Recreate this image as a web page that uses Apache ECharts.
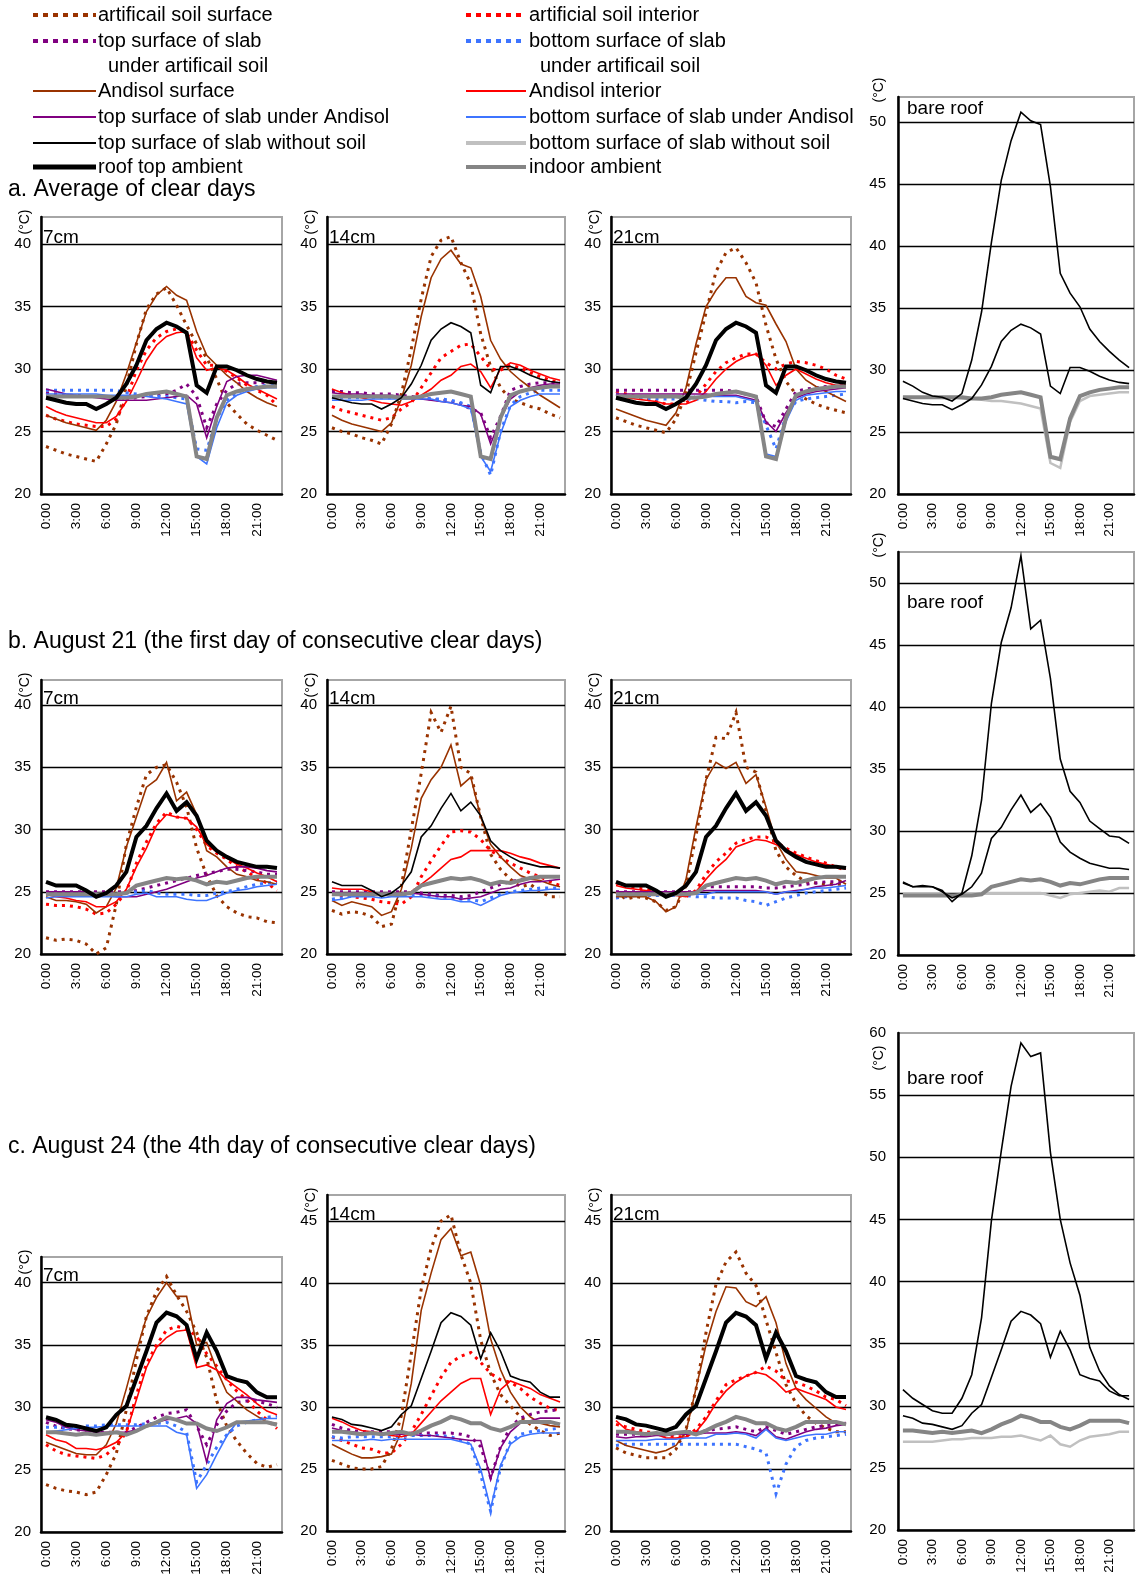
<!DOCTYPE html>
<html><head><meta charset="utf-8">
<script src="https://cdn.jsdelivr.net/npm/echarts@6/dist/echarts.min.js"></script>
<style>html,body{margin:0;padding:0;background:#fff}#c{width:1137px;height:1581px}</style>
</head><body><div id="c"></div>
<script>
const hours = ['0:00','1:00','2:00','3:00','4:00','5:00','6:00','7:00','8:00','9:00','10:00','11:00','12:00','13:00','14:00','15:00','16:00','17:00','18:00','19:00','20:00','21:00','22:00','23:00'];

// ---------- a. Average of clear days ----------
const roofA    = [27.7,27.5,27.3,27.2,27.2,26.8,27.2,27.7,28.8,30.3,32.3,33.2,33.7,33.4,32.9,28.7,28.1,30.2,30.2,29.9,29.5,29.2,29.0,28.9];
const indoorA  = [27.8,27.8,27.8,27.8,27.8,27.8,27.8,27.7,27.7,27.8,28.0,28.1,28.2,28.0,27.8,23.0,22.8,26.1,27.9,28.2,28.4,28.5,28.6,28.6];
const bareTopA = [29.1,28.7,28.2,27.9,27.8,27.5,28.1,30.8,34.7,40.3,45.3,48.5,50.8,50.1,49.8,44.8,37.8,36.2,35.1,33.3,32.3,31.5,30.8,30.2];
const bareBotA = [27.8,27.8,27.8,27.8,27.8,27.8,27.7,27.7,27.6,27.5,27.5,27.4,27.3,27.1,26.9,22.5,22.1,25.8,27.5,27.9,28.0,28.1,28.2,28.2];

const a7_artSurf = [23.8,23.5,23.2,23.0,22.8,22.6,24.0,25.6,28.6,32.0,34.8,36.0,36.5,35.1,33.5,32.0,30.9,29.2,27.3,26.4,25.6,25.1,24.7,24.3];
const a7_artInt  = [26.3,26.0,25.8,25.6,25.5,25.4,25.4,26.0,27.6,29.9,31.5,32.5,33.0,33.2,32.9,31.5,30.3,30.3,29.8,29.3,28.7,28.3,27.9,27.1];
const a7_artTop  = [28.1,28.0,27.9,27.9,27.8,27.8,27.7,27.6,27.6,27.7,27.8,27.9,28.0,28.3,28.8,27.8,25.3,27.2,28.3,28.8,28.9,28.9,28.9,28.9];
const a7_artBot  = [28.3,28.3,28.3,28.3,28.3,28.3,28.3,28.3,28.1,28.0,27.9,27.8,27.8,27.7,27.6,23.6,23.5,26.0,27.5,28.1,28.4,28.6,28.7,28.7];
const a7_andSurf = [26.3,26.0,25.7,25.5,25.3,25.1,25.9,27.4,29.6,32.1,34.6,35.9,36.6,35.9,35.5,33.0,31.1,30.3,29.5,28.9,28.2,27.7,27.3,27.0];
const a7_andInt  = [27.0,26.6,26.3,26.1,25.9,25.7,25.7,26.2,27.4,29.0,30.7,31.9,32.6,32.9,33.0,30.9,29.9,30.1,29.9,29.4,28.8,28.4,28.0,27.6];
const a7_andTop  = [28.4,28.2,28.0,27.9,27.8,27.7,27.6,27.5,27.5,27.5,27.5,27.6,27.7,27.8,27.9,27.2,24.5,27.0,29.0,29.4,29.5,29.5,29.3,29.1];
const a7_andBot  = [28.0,28.0,28.0,28.0,28.0,28.0,27.9,27.9,27.9,27.9,27.8,27.7,27.6,27.4,27.2,23.0,22.4,25.3,27.3,27.9,28.2,28.4,28.5,28.5];

const a14_artSurf = [25.3,25.0,24.8,24.5,24.3,24.0,25.6,28.0,31.6,35.6,39.0,40.3,40.6,38.5,36.8,32.8,30.2,28.5,27.6,27.3,27.0,26.8,26.4,26.1];
const a14_artInt  = [27.0,26.7,26.5,26.3,26.1,25.9,26.1,26.8,27.3,28.5,29.7,30.9,31.4,31.9,32.0,31.0,30.0,29.9,30.3,30.1,29.7,29.4,29.1,28.9];
const a14_artTop  = [28.2,28.2,28.1,28.1,28.0,28.0,28.0,27.9,27.8,27.7,27.6,27.5,27.4,27.2,26.8,26.5,24.5,26.2,28.3,28.6,28.8,28.9,28.9,28.9];
const a14_artBot  = [27.7,27.7,27.7,27.7,27.7,27.7,27.7,27.7,27.7,27.7,27.6,27.6,27.5,27.3,27.0,23.3,21.5,25.0,27.1,27.8,28.1,28.3,28.3,28.3];
const a14_andSurf = [26.3,25.9,25.6,25.4,25.2,25.0,25.7,27.6,30.3,34.2,37.3,38.8,39.5,38.4,38.1,35.8,32.3,30.8,29.8,29.1,28.5,27.9,27.4,26.9];
const a14_andInt  = [28.4,28.1,27.9,27.7,27.5,27.3,27.2,27.1,27.4,27.9,28.4,29.1,29.5,30.2,30.4,29.8,28.5,30.0,30.5,30.3,29.9,29.6,29.3,29.1];
const a14_andTop  = [28.1,28.0,28.0,28.0,27.9,27.9,27.9,27.8,27.7,27.6,27.5,27.4,27.3,27.1,27.0,26.4,24.0,26.0,27.6,28.2,28.5,28.7,28.8,28.8];
const a14_andBot  = [27.5,27.5,27.5,27.5,27.6,27.6,27.6,27.6,27.6,27.6,27.6,27.4,27.3,27.1,26.8,23.0,21.8,24.8,27.0,27.5,27.8,28.0,28.0,28.0];

const a21_artSurf = [26.1,25.8,25.5,25.3,25.1,24.9,26.0,28.0,31.3,34.5,37.8,39.3,39.7,38.5,36.9,33.5,30.8,29.0,28.0,27.6,27.2,26.9,26.7,26.5];
const a21_artInt  = [28.2,28.0,27.8,27.6,27.4,27.2,27.2,27.3,27.8,28.8,29.8,30.5,30.9,31.2,31.2,30.5,30.0,30.4,30.6,30.5,30.3,30.0,29.5,29.2];
const a21_artTop  = [28.3,28.3,28.3,28.3,28.3,28.3,28.3,28.3,28.3,28.3,28.3,28.3,28.2,28.0,27.8,25.7,25.4,26.8,28.2,28.4,28.5,28.6,28.7,28.7];
const a21_artBot  = [28.0,27.8,27.7,27.6,27.6,27.6,27.6,27.6,27.6,27.5,27.4,27.4,27.3,27.4,27.3,25.5,23.6,26.3,27.4,27.6,27.7,27.8,27.9,28.0];
const a21_andSurf = [26.8,26.5,26.2,25.9,25.7,25.5,26.5,28.5,32.0,35.0,36.3,37.3,37.3,35.8,35.3,35.1,33.6,32.2,30.0,29.1,28.6,28.2,27.8,27.4];
const a21_andInt  = [27.9,27.7,27.6,27.5,27.4,27.2,27.2,27.2,27.5,28.2,29.2,30.0,30.6,31.0,31.2,30.3,28.7,29.5,30.0,29.6,29.2,28.9,28.7,28.7];
const a21_andTop  = [28.0,28.0,28.0,28.0,28.0,28.0,28.0,28.0,28.0,28.0,27.9,27.9,27.9,27.7,27.5,25.8,25.0,26.5,27.7,28.0,28.2,28.3,28.4,28.5];
const a21_andBot  = [27.8,27.8,27.8,27.8,27.8,27.8,27.8,27.8,27.8,27.8,27.8,27.8,27.8,27.6,27.4,23.2,23.0,25.8,27.5,27.9,28.0,28.1,28.2,28.2];

// ---------- b. August 21 ----------
const roofB    = [25.8,25.5,25.5,25.5,25.1,24.6,24.9,25.5,26.6,29.4,30.3,31.7,32.9,31.5,32.2,31.1,29.1,28.3,27.8,27.4,27.2,27.0,27.0,26.9];
const indoorB  = [24.8,24.8,24.8,24.8,24.8,24.8,24.8,24.8,24.9,25.5,25.7,25.9,26.1,26.0,26.1,25.9,25.6,25.8,25.7,25.9,26.1,26.2,26.2,26.2];
const bareTopB = [25.9,25.5,25.6,25.5,25.2,24.3,25.0,28.0,32.5,40.3,45.2,48.0,52.2,46.3,47.0,42.3,35.8,33.2,32.3,30.8,30.2,29.6,29.5,29.0];
const bareBotB = [24.9,24.9,24.9,24.9,24.9,24.8,24.9,24.9,25.0,25.0,25.0,25.0,25.0,25.0,25.0,24.8,24.6,24.9,25.0,25.1,25.2,25.1,25.4,25.4];

const b7_artSurf = [21.3,21.1,21.2,21.1,20.8,20.0,20.5,24.0,28.8,31.8,34.4,35.0,35.2,33.8,31.8,28.5,26.3,24.7,23.8,23.3,23.0,22.9,22.6,22.5];
const b7_artInt  = [24.0,23.9,23.9,23.8,23.6,23.2,23.3,24.0,25.0,27.3,29.0,30.5,31.4,31.0,30.9,30.0,28.7,28.1,27.6,27.0,26.6,26.1,25.7,25.1];
const b7_artTop  = [25.0,25.0,25.0,25.0,25.0,25.0,25.0,25.0,25.0,25.1,25.3,25.5,25.7,25.9,26.1,26.3,26.5,26.6,26.8,26.8,26.7,26.6,26.4,26.4];
const b7_artBot  = [24.8,24.8,24.8,24.8,24.8,24.8,24.8,24.8,24.9,25.0,25.1,24.9,24.8,24.8,24.8,24.7,24.7,24.9,25.0,25.2,25.4,25.6,25.7,25.8];
const b7_andSurf = [24.6,24.3,24.3,24.2,24.0,23.3,23.8,25.3,28.6,31.0,33.4,34.0,35.4,32.3,33.0,31.2,28.3,27.8,27.0,26.4,26.2,25.9,25.8,25.6];
const b7_andInt  = [24.8,24.6,24.5,24.3,24.2,23.8,23.8,24.2,25.2,27.0,28.5,30.3,31.2,31.0,30.9,30.2,28.8,28.2,27.7,27.2,26.9,26.5,26.2,25.8];
const b7_andTop  = [25.0,25.0,25.0,25.0,25.0,24.8,24.7,24.6,24.6,24.6,24.8,25.0,25.2,25.5,25.8,26.1,26.3,26.6,26.9,27.0,27.0,26.9,26.7,26.6];
const b7_andBot  = [24.5,24.6,24.6,24.6,24.6,24.6,24.6,24.6,24.6,24.8,24.9,24.6,24.6,24.6,24.4,24.3,24.3,24.6,24.9,25.1,25.2,25.4,25.5,25.6];

const b14_artSurf = [23.5,23.2,23.4,23.3,23.0,22.2,22.4,25.5,30.0,34.5,39.4,37.8,39.9,35.0,34.5,31.0,28.0,26.8,26.0,25.4,25.6,25.0,24.6,24.6];
const b14_artInt  = [24.8,24.7,24.6,24.5,24.4,24.2,24.1,24.0,24.6,26.2,27.5,28.7,29.8,29.9,29.8,29.2,28.3,27.8,27.3,26.9,26.5,26.2,25.8,25.5];
const b14_artTop  = [25.0,25.0,25.0,25.0,25.0,25.0,25.0,25.0,25.0,24.9,24.8,24.7,24.7,24.6,24.7,25.0,25.3,25.6,25.8,26.0,26.1,26.2,26.2,26.2];
const b14_artBot  = [24.4,24.5,24.7,24.7,24.7,24.7,24.7,24.7,24.7,24.7,24.7,24.6,24.5,24.4,24.4,24.2,24.5,24.8,25.0,25.1,25.2,25.3,25.3,25.3];
const b14_andSurf = [24.3,23.9,24.2,24.0,23.8,23.1,23.4,25.2,28.5,32.5,34.0,35.0,36.8,33.5,34.2,31.0,28.8,27.8,27.0,26.3,26.0,25.9,25.6,25.4];
const b14_andInt  = [25.3,25.2,25.2,25.2,25.0,24.8,24.8,24.8,25.0,25.6,26.2,26.9,27.6,27.8,28.3,28.3,28.3,28.3,28.1,27.8,27.6,27.3,27.1,26.9];
const b14_andTop  = [24.9,24.9,24.9,24.9,24.9,24.9,24.9,24.9,24.9,24.8,24.7,24.6,24.6,24.4,24.5,24.6,24.9,25.2,25.3,25.6,25.8,25.8,25.9,26.0];
const b14_andBot  = [24.3,24.4,24.6,24.6,24.6,24.5,24.6,24.6,24.6,24.6,24.5,24.4,24.4,24.2,24.2,23.9,24.3,24.7,24.9,25.0,25.1,25.1,25.2,25.2];

const b21_artSurf = [25.0,24.4,24.6,24.5,24.2,23.5,23.8,25.5,29.5,34.0,37.4,37.3,39.4,35.0,34.6,31.5,28.3,27.0,26.3,25.8,25.7,25.6,25.6,25.6];
const b21_artInt  = [25.7,25.5,25.3,25.2,25.0,24.8,24.7,24.6,25.1,26.4,27.4,28.1,28.9,29.2,29.4,29.4,29.0,28.5,28.1,27.8,27.5,27.3,27.0,26.7];
const b21_artTop  = [25.0,25.0,25.0,25.0,25.0,25.0,25.0,25.0,25.0,25.4,25.4,25.4,25.4,25.4,25.4,25.3,25.3,25.4,25.5,25.6,25.7,25.8,25.8,25.9];
const b21_artBot  = [24.5,24.6,24.7,24.7,24.7,24.7,24.7,24.7,24.6,24.6,24.5,24.5,24.5,24.3,24.2,23.9,24.2,24.5,24.7,24.9,25.0,25.1,25.2,25.3];
const b21_andSurf = [24.6,24.6,24.6,24.6,24.2,23.4,23.8,26.0,30.2,34.0,35.4,34.9,35.4,33.7,34.4,31.8,29.0,27.6,26.6,26.5,26.3,26.1,26.1,25.6];
const b21_andInt  = [25.5,25.3,25.2,25.1,25.0,24.8,24.7,24.6,25.0,26.0,26.9,27.6,28.6,28.9,29.2,29.1,28.8,28.4,28.0,27.7,27.4,27.2,27.0,26.8];
const b21_andTop  = [25.0,25.0,25.0,25.0,25.0,25.0,25.0,25.0,25.0,25.1,25.1,25.1,25.1,25.1,25.1,25.0,24.8,25.0,25.1,25.2,25.4,25.5,25.6,25.9];
const b21_andBot  = [24.8,24.8,24.8,24.8,24.8,24.8,24.8,24.8,24.8,24.8,25.0,25.0,25.0,25.0,25.0,25.0,24.8,25.0,25.0,25.2,25.3,25.3,25.4,25.5];

// ---------- c. August 24 ----------
const roofC    = [29.2,29.0,28.6,28.5,28.3,28.1,28.4,29.4,30.1,32.3,34.5,36.8,37.6,37.3,36.6,33.9,36.0,34.5,32.5,32.2,32.0,31.2,30.8,30.8];
const indoorC  = [28.0,28.0,27.9,27.8,27.9,27.8,27.9,28.0,27.8,28.1,28.5,28.8,29.2,29.0,28.7,28.7,28.3,28.1,28.4,28.8,28.8,28.8,28.8,28.6];
const bareTopC = [31.3,30.6,30.1,29.6,29.4,29.4,30.6,32.5,37.1,44.9,50.5,55.7,59.2,58.1,58.4,50.4,45.0,41.5,38.9,34.7,32.8,31.6,30.9,30.5];
const bareBotC = [27.1,27.1,27.1,27.1,27.2,27.3,27.3,27.4,27.4,27.4,27.5,27.5,27.6,27.4,27.2,27.6,26.9,26.7,27.2,27.5,27.6,27.7,27.9,27.9];

const c7_artSurf = [23.8,23.5,23.3,23.2,23.0,23.2,24.6,26.3,29.8,33.8,37.3,39.3,40.5,39.0,37.7,36.0,34.0,30.5,28.5,27.3,26.3,25.5,25.2,25.4];
const c7_artInt  = [27.0,26.5,26.2,26.1,26.0,25.9,26.2,26.9,28.0,31.0,33.5,35.0,36.2,36.5,36.3,35.7,34.3,33.3,32.2,31.3,30.6,29.7,29.0,28.3];
const c7_artTop  = [28.8,28.5,28.3,28.2,28.1,28.0,28.0,28.0,28.0,28.4,28.8,29.2,29.5,29.6,29.8,28.5,27.0,28.6,29.7,30.4,30.5,30.5,30.3,30.0];
const c7_artBot  = [28.4,28.4,28.4,28.4,28.5,28.5,28.6,28.6,28.6,28.6,28.7,28.7,28.8,28.5,28.0,24.0,25.4,26.8,27.8,28.5,28.8,29.0,29.2,29.3];
const c7_andSurf = [27.2,26.9,26.6,26.3,26.2,26.2,27.0,28.7,31.5,34.5,37.2,38.8,40.0,38.9,38.9,35.0,35.2,33.0,31.2,30.5,29.8,29.3,28.8,28.7];
const c7_andInt  = [27.8,27.4,27.2,26.7,26.7,26.6,26.8,27.2,28.0,30.6,33.2,34.8,35.6,36.1,36.2,33.2,33.4,33.0,32.2,31.6,31.0,30.3,29.7,29.4];
const c7_andTop  = [29.0,28.8,28.4,28.2,28.1,28.0,28.0,28.0,28.0,28.2,28.5,28.8,29.0,29.1,29.3,28.7,25.6,29.0,30.3,30.8,30.8,30.6,30.5,30.4];
const c7_andBot  = [28.0,28.1,28.2,28.3,28.4,28.4,28.5,28.5,28.5,28.5,28.5,28.5,28.5,28.0,27.8,23.5,24.6,26.2,27.7,28.8,28.9,29.0,29.1,29.1];

const c14_artSurf = [25.7,25.4,25.1,25.0,25.0,25.2,26.6,29.3,34.3,39.5,42.8,45.0,45.5,42.3,40.0,35.4,32.7,31.0,30.1,29.2,28.6,28.1,27.7,27.9];
const c14_artInt  = [27.6,27.3,27.0,26.7,26.6,26.3,26.3,27.0,28.0,29.4,30.9,32.4,33.6,34.1,34.4,33.6,32.7,32.2,32.0,31.5,30.8,30.3,29.9,29.7];
const c14_artTop  = [28.6,28.3,28.1,28.0,28.0,28.0,28.0,27.9,27.9,27.9,27.9,27.9,27.9,27.8,27.6,26.8,24.3,26.8,28.4,29.1,29.4,29.6,29.7,29.8];
const c14_artBot  = [27.6,27.5,27.6,27.6,27.6,27.6,27.6,27.6,27.7,27.7,27.7,27.7,27.6,27.3,27.0,24.5,21.6,25.1,27.2,27.8,28.0,28.1,28.2,28.3];
const c14_andSurf = [27.0,26.6,26.2,25.9,25.9,26.0,26.2,28.0,31.9,37.8,40.8,43.5,44.4,42.2,42.5,39.8,35.5,33.0,31.2,30.0,29.2,28.7,28.5,28.4];
const c14_andInt  = [29.1,28.8,28.4,28.1,28.0,27.9,27.7,27.6,27.8,28.7,29.6,30.5,31.2,31.9,32.3,32.3,29.4,31.4,32.1,31.8,31.5,31.0,30.7,30.4];
const c14_andTop  = [28.3,28.1,28.0,27.9,27.9,27.9,27.8,27.8,27.8,27.7,27.7,27.6,27.5,27.4,27.3,27.3,24.2,26.7,28.0,28.7,28.9,29.1,29.1,29.1];
const c14_andBot  = [27.3,27.3,27.3,27.3,27.4,27.3,27.4,27.4,27.4,27.4,27.4,27.4,27.4,27.2,27.0,25.0,21.8,25.3,27.0,27.6,27.8,27.9,27.9,27.9];

const c21_artSurf = [26.7,26.3,26.1,25.9,25.9,25.9,26.6,28.2,31.4,36.0,39.9,41.7,42.5,40.8,39.8,37.0,34.4,31.8,30.3,29.3,28.7,28.3,28.0,28.0];
const c21_artInt  = [28.6,28.4,28.2,28.0,27.9,27.7,27.6,27.6,28.2,29.2,30.5,31.8,32.2,32.5,32.8,33.3,32.9,32.1,32.0,31.7,31.3,30.8,30.6,30.1];
const c21_artTop  = [27.8,27.8,27.8,27.8,27.8,27.8,27.9,28.0,28.0,28.1,28.2,28.3,28.4,28.2,28.0,28.4,28.1,27.8,28.0,28.2,28.4,28.5,28.6,28.7];
const c21_artBot  = [26.9,27.0,27.0,27.0,27.0,27.0,27.0,27.0,27.0,27.0,27.0,27.0,27.0,26.8,26.6,26.3,23.0,25.4,26.8,27.3,27.5,27.6,27.7,27.8];
const c21_andSurf = [27.3,26.9,26.7,26.5,26.3,26.5,26.9,28.0,31.5,35.0,37.7,39.7,39.6,38.5,38.1,38.9,36.8,33.5,31.5,30.6,29.9,29.2,28.7,28.6];
const c21_andInt  = [28.9,28.2,28.0,27.9,27.8,27.5,27.5,27.6,28.0,29.0,30.3,31.3,32.0,32.5,32.8,32.6,32.0,31.2,31.5,31.2,30.9,30.6,30.0,29.8];
const c21_andTop  = [27.6,27.5,27.6,27.6,27.7,27.7,27.8,27.8,27.8,27.9,27.9,27.9,28.0,27.9,27.7,28.3,27.6,27.4,27.7,28.0,28.2,28.3,28.5,28.6];
const c21_andBot  = [27.3,27.3,27.3,27.3,27.4,27.4,27.4,27.5,27.5,27.5,27.8,27.8,27.9,27.8,27.5,28.2,27.5,27.3,27.5,27.7,27.8,27.8,28.0,28.0];

// ---------- assemble per-panel soil series ----------
const SOIL = {
  a7:{artSurf:a7_artSurf,artInt:a7_artInt,artTop:a7_artTop,artBot:a7_artBot,andSurf:a7_andSurf,andInt:a7_andInt,andTop:a7_andTop,andBot:a7_andBot},
  a14:{artSurf:a14_artSurf,artInt:a14_artInt,artTop:a14_artTop,artBot:a14_artBot,andSurf:a14_andSurf,andInt:a14_andInt,andTop:a14_andTop,andBot:a14_andBot},
  a21:{artSurf:a21_artSurf,artInt:a21_artInt,artTop:a21_artTop,artBot:a21_artBot,andSurf:a21_andSurf,andInt:a21_andInt,andTop:a21_andTop,andBot:a21_andBot},
  b7:{artSurf:b7_artSurf,artInt:b7_artInt,artTop:b7_artTop,artBot:b7_artBot,andSurf:b7_andSurf,andInt:b7_andInt,andTop:b7_andTop,andBot:b7_andBot},
  b14:{artSurf:b14_artSurf,artInt:b14_artInt,artTop:b14_artTop,artBot:b14_artBot,andSurf:b14_andSurf,andInt:b14_andInt,andTop:b14_andTop,andBot:b14_andBot},
  b21:{artSurf:b21_artSurf,artInt:b21_artInt,artTop:b21_artTop,artBot:b21_artBot,andSurf:b21_andSurf,andInt:b21_andInt,andTop:b21_andTop,andBot:b21_andBot},
  c7:{artSurf:c7_artSurf,artInt:c7_artInt,artTop:c7_artTop,artBot:c7_artBot,andSurf:c7_andSurf,andInt:c7_andInt,andTop:c7_andTop,andBot:c7_andBot},
  c14:{artSurf:c14_artSurf,artInt:c14_artInt,artTop:c14_artTop,artBot:c14_artBot,andSurf:c14_andSurf,andInt:c14_andInt,andTop:c14_andTop,andBot:c14_andBot},
  c21:{artSurf:c21_artSurf,artInt:c21_artInt,artTop:c21_artTop,artBot:c21_artBot,andSurf:c21_andSurf,andInt:c21_andInt,andTop:c21_andTop,andBot:c21_andBot}
};

// ---------- styling / layout ----------
const FONT = "'Liberation Sans', Arial, sans-serif";
const COL = {brown:'#993300', red:'#ff0000', purple:'#800080', blue:'#3d74ff', black:'#000000', lgrey:'#c0c0c0', grey:'#858585'};
const DOT = [3,5];

const panels = [
  {kind:'soil', s:'a7',  x0:41,  x1:282,  top:217, y20:494, refY:244, refV:40, label:'7cm',  roof:roofA, indoor:indoorA, thick:true},
  {kind:'soil', s:'a14', x0:327, x1:565,  top:217, y20:494, refY:244, refV:40, label:'14cm', roof:roofA, indoor:indoorA, thick:false},
  {kind:'soil', s:'a21', x0:611, x1:851,  top:217, y20:494, refY:244, refV:40, label:'21cm', roof:roofA, indoor:indoorA, thick:true},
  {kind:'bare', x0:898, x1:1134, top:97,  y20:494, refY:122, refV:50, roof:roofA, indoor:indoorA, bt:bareTopA, bb:bareBotA, labelY:109},
  {kind:'soil', s:'b7',  x0:41,  x1:282,  top:680, y20:954, refY:705, refV:40, label:'7cm',  roof:roofB, indoor:indoorB, thick:true},
  {kind:'soil', s:'b14', x0:327, x1:565,  top:680, y20:954, refY:705, refV:40, label:'14cm', roof:roofB, indoor:indoorB, thick:false},
  {kind:'soil', s:'b21', x0:611, x1:851,  top:680, y20:954, refY:705, refV:40, label:'21cm', roof:roofB, indoor:indoorB, thick:true},
  {kind:'bare', x0:898, x1:1134, top:552, y20:955, refY:583, refV:50, roof:roofB, indoor:indoorB, bt:bareTopB, bb:bareBotB, labelY:603},
  {kind:'soil', s:'c7',  x0:41,  x1:282,  top:1257, y20:1532, refY:1282.7, refV:40, label:'7cm',  roof:roofC, indoor:indoorC, thick:true},
  {kind:'soil', s:'c14', x0:327, x1:565,  top:1195, y20:1531, refY:1221, refV:45, label:'14cm', roof:roofC, indoor:indoorC, thick:false},
  {kind:'soil', s:'c21', x0:611, x1:851,  top:1195, y20:1531, refY:1221, refV:45, label:'21cm', roof:roofC, indoor:indoorC, thick:true},
  {kind:'bare', x0:898, x1:1134, top:1033, y20:1530, refY:1033, refV:60, roof:roofC, indoor:indoorC, bt:bareTopC, bb:bareBotC, labelY:1079}
];

const grids=[], xAxes=[], yAxes=[], series=[], graphics=[];

function line(i, data, color, width, dash, z){
  series.push({type:'line', xAxisIndex:i, yAxisIndex:i, data:data, symbol:'none', showSymbol:false, silent:true,
    animation:false, z:z||2, lineStyle:{color:color, width:width, type:dash||'solid', cap:'butt', join:'miter'}, itemStyle:{color:color},
    emphasis:{disabled:true}});
}
function txt(x,y,text,size,opts){
  opts = opts || {};
  const st = Object.assign({text:text, font:size+'px '+FONT, fill:'#000', textAlign:'left', textVerticalAlign:'middle'}, opts.style||{});
  const o = {type:'text', x:x, y:y, silent:true, z:50, style:st};
  if (opts.rotation) o.rotation = opts.rotation;
  graphics.push(o);
}

panels.forEach((p,i)=>{
  const ppu = (p.y20 - p.refY)/(p.refV - 20);
  const max = (p.kind==='bare' && p.refV===60) ? 60 : +(20 + (p.y20 - p.top)/ppu).toFixed(2);
  grids.push({left:p.x0, top:p.top, width:p.x1-p.x0, height:p.y20-p.top, show:true, borderColor:'#a6a6a6', borderWidth:2,
    backgroundColor:'#fff', containLabel:false, outerBoundsMode:'none'});
  xAxes.push({type:'category', gridIndex:i, data:hours, boundaryGap:true,
    axisLine:{show:true, lineStyle:{color:'#000', width:2.5}}, axisTick:{show:false},
    axisLabel:{interval:2, rotate:90, margin:9, fontSize:13.5, fontFamily:FONT, color:'#000'}, splitLine:{show:false}});
  yAxes.push({type:'value', gridIndex:i, min:20, max:max, interval:5,
    axisLine:{show:true, lineStyle:{color:'#000', width:2.5}}, axisTick:{show:false},
    axisLabel:{margin:p.kind==='bare'?12:10, fontSize:15, fontFamily:FONT, color:'#000', showMaxLabel:true,
      formatter:v=> (Math.abs(v - Math.round(v/5)*5) < 1e-6 ? String(Math.round(v)) : '')},
    splitLine:{show:true, showMinLine:false, showMaxLine:false, lineStyle:{color:'#000', width:1.3}}});
  if (p.kind==='soil'){
    const s = SOIL[p.s];
    line(i, s.artSurf, COL.brown, 3, DOT, 3);
    line(i, s.artInt, COL.red, 3, DOT, 3);
    line(i, s.artTop, COL.purple, 3, DOT, 3);
    line(i, s.artBot, COL.blue, 3, DOT, 3);
    line(i, s.andSurf, COL.brown, 1.6, 'solid', 4);
    line(i, s.andInt, COL.red, 1.6, 'solid', 4);
    line(i, s.andTop, COL.purple, 1.6, 'solid', 4);
    line(i, s.andBot, COL.blue, 1.6, 'solid', 4);
    line(i, p.indoor, COL.grey, 4, 'solid', 5);
    line(i, p.roof, COL.black, p.thick?4:1.6, 'solid', 6);
    const gy = p.y20 - (p.refV-20)*ppu;
    txt(p.x0+2, gy+3, p.label, 19, {style:{textVerticalAlign:'bottom'}});
    txt(p.x0-16, p.top+5, '(°C)', 14, {rotation:Math.PI/2, style:{textAlign:'center', textVerticalAlign:'middle'}});
  } else {
    line(i, p.bb, COL.lgrey, 2.5, 'solid', 3);
    line(i, p.indoor, COL.grey, 4, 'solid', 4);
    line(i, p.bt, COL.black, 1.6, 'solid', 5);
    line(i, p.roof, COL.black, 1.6, 'solid', 5);
    txt(p.x0+9, p.labelY, 'bare roof', 19);
    txt(879, p.refV===60 ? p.top+25 : p.top-7, '(°C)', 14, {rotation:Math.PI/2, style:{textAlign:'center', textVerticalAlign:'middle'}});
  }
});

// ---------- legend (drawn as graphics) ----------
const legendRows = [15, 41, 66.5, 91, 117, 143, 167];
const legendItems = [
  {c:0, r:0, t:'artificail soil surface', col:COL.brown, w:4, d:[5,5]},
  {c:1, r:0, t:'artificial soil interior', col:COL.red, w:4, d:[5,5]},
  {c:0, r:1, t:'top surface of slab', col:COL.purple, w:4, d:[5,5]},
  {c:1, r:1, t:'bottom surface of slab', col:COL.blue, w:4, d:[5,5]},
  {c:0, r:3, t:'Andisol surface', col:COL.brown, w:2},
  {c:1, r:3, t:'Andisol interior', col:COL.red, w:2},
  {c:0, r:4, t:'top surface of slab under Andisol', col:COL.purple, w:2},
  {c:1, r:4, t:'bottom surface of slab under Andisol', col:COL.blue, w:2},
  {c:0, r:5, t:'top surface of slab without soil', col:COL.black, w:2},
  {c:1, r:5, t:'bottom surface of slab without soil', col:COL.lgrey, w:4},
  {c:0, r:6, t:'roof top ambient', col:COL.black, w:5},
  {c:1, r:6, t:'indoor ambient', col:COL.grey, w:4}
];
const legCols = [{x1:33, x2:96, tx:98, sub:108}, {x1:466, x2:526, tx:529, sub:540}];
legendItems.forEach(it=>{
  const c = legCols[it.c], y = legendRows[it.r];
  graphics.push({type:'line', silent:true, z:50, shape:{x1:c.x1, y1:y, x2:c.x2, y2:y},
    style:{stroke:it.col, lineWidth:it.w, lineDash:it.d||null, lineCap:'butt'}});
  txt(c.tx, y, it.t, 20);
});
txt(legCols[0].sub, legendRows[2], 'under artificail soil', 20);
txt(legCols[1].sub, legendRows[2], 'under artificail soil', 20);

txt(8, 190, 'a. Average of clear days', 23);
txt(8, 642, 'b. August 21 (the first day of consecutive clear days)', 23);
txt(8, 1147, 'c. August 24 (the 4th day of consecutive clear days)', 23);

const chart = echarts.init(document.getElementById('c'), null, {renderer:'canvas', width:1137, height:1581});
chart.setOption({animation:false, backgroundColor:'#fff', grid:grids, xAxis:xAxes, yAxis:yAxes, series:series, graphic:{elements:graphics}});
</script>
</body></html>
